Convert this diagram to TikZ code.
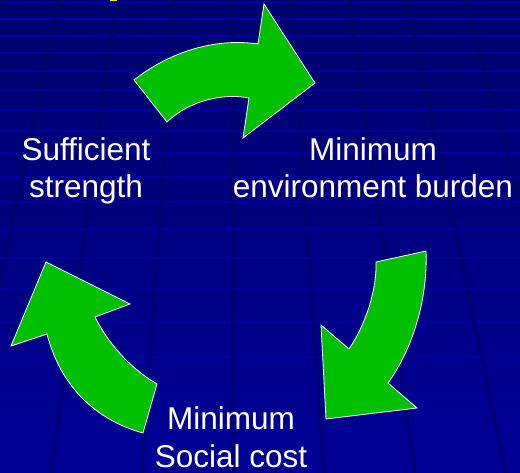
\documentclass[tikz,border=0pt]{standalone}
\usepackage{fontspec}
\setmainfont{Liberation Sans}
\definecolor{bgtop}{RGB}{0,0,108}
\definecolor{bgbot}{RGB}{0,0,150}
\definecolor{tileline}{RGB}{0,0,180}
\definecolor{tilegap}{RGB}{0,0,96}
\definecolor{arrowgreen}{RGB}{0,192,0}
\definecolor{titleyellow}{RGB}{255,230,0}
\tikzstyle{cyclearrow} = [fill=arrowgreen, draw=white, line width=0.8pt, line join=miter]
\tikzstyle{goaltext} = [align=center, text=white, inner sep=0pt, font=\fontsize{31.5}{37.8}\selectfont]

\begin{document}
\begin{tikzpicture}[x=1pt,y=-1pt]
    \useasboundingbox (0,0) rectangle (520,473);
    \clip (0,0) rectangle (520,473);
    % background tiles
    \fill[top color=bgtop, bottom color=bgbot] (0,0) rectangle (520,473);
    \foreach \y in {2,19,36,53,71,90,110,131,153,177,202,229,258,289,322,357,395,435}
        \draw[tileline, line width=2.5pt, opacity={1-\y/560}] (0,\y) -- (520,\y);
    \foreach \n in {-5,...,5}
        \draw[tilegap, line width=3.5pt, opacity=0.6] ({233+58*\n},0) -- ({233+91*\n},473);
    \fill[titleyellow] (110,0) rectangle (117,1.5);

    % arrows
    \filldraw[cyclearrow] (134,80) .. controls (172,50) and (218,38) .. (258,44)
        -- (264,4) -- (315,83) -- (243,138) -- (249,98)
        .. controls (224,93) and (190,100) .. (167,122) -- cycle;
    \filldraw[cyclearrow] (426,251) .. controls (428,300) and (412,350) .. (388,383)
        -- (417,408) -- (326,419) -- (321,325) -- (349,349)
        .. controls (366,324) and (377,289) .. (376,262) -- cycle;
    \filldraw[cyclearrow] (143,433) -- (157,384)
        .. controls (128,367) and (107,341) .. (95,317)
        -- (130,304) -- (46,262) -- (11,346) -- (47,334)
        .. controls (60,385) and (95,420) .. cycle;

    % goals (base = last line)
    \node[goaltext, anchor=base] (strength) at (86,198) {Sufficient\\strength};
    \node[goaltext, anchor=base] (burden) at (373,198) {Minimum\\environment burden};
    \node[goaltext, anchor=base] (cost) at (231,467) {Minimum\\Social cost};
\end{tikzpicture}
\end{document}
